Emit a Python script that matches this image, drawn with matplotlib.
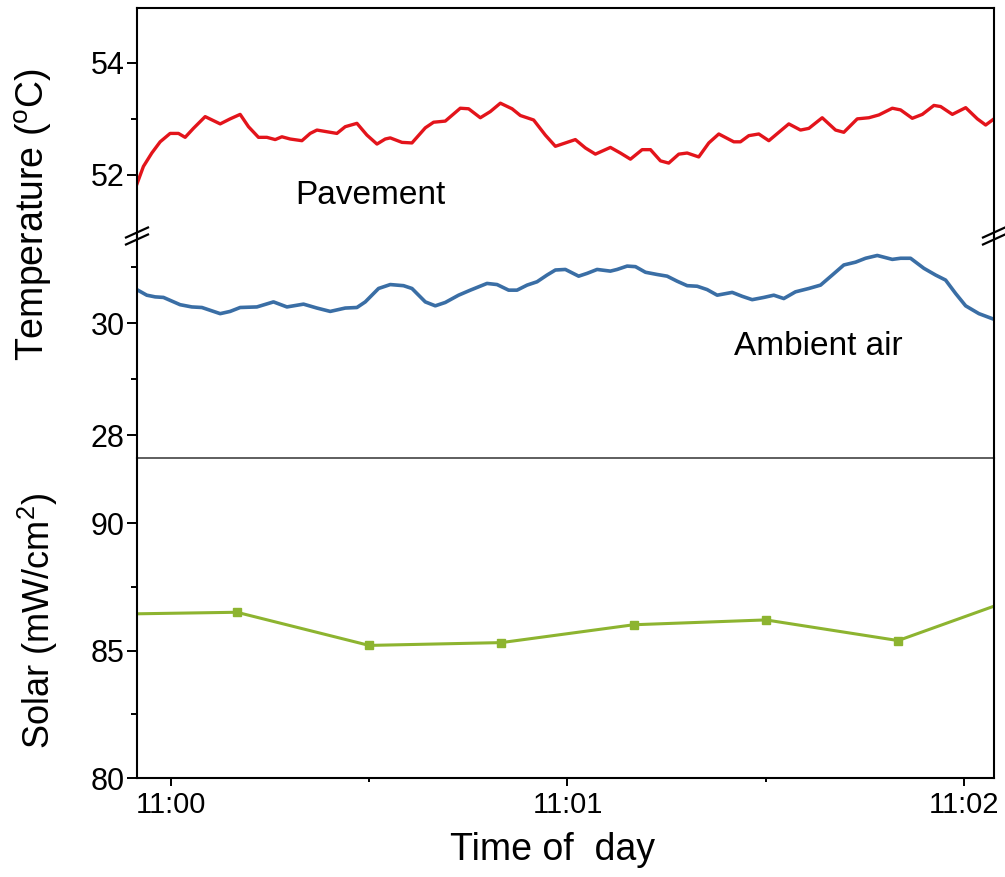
"""Pavement / ambient air temperature and solar irradiance, 11:00-11:02."""
import matplotlib
matplotlib.use("Agg")
import matplotlib.pyplot as plt
from matplotlib.lines import Line2D
from matplotlib.ticker import FixedLocator

plt.rcParams["font.family"] = ["Liberation Sans", "DejaVu Sans"]
plt.rcParams["mathtext.fontset"] = "custom"
plt.rcParams["mathtext.rm"] = "Liberation Sans"

# time in seconds after 11:00:00
pave_t = [-5.13, -4.13, -2.86, -1.60, -0.09, 1.17, 2.18, 3.43, 5.21, 7.48,
          8.99, 10.50, 11.76, 13.27, 14.54, 15.80, 16.81, 18.07, 19.84, 21.09,
          22.11, 23.62, 25.13, 26.39, 28.16, 29.67, 31.19, 32.44, 33.20, 34.97,
          36.48, 38.50, 39.75, 41.52, 43.79, 45.05, 46.82, 48.33, 49.85, 51.62,
          52.87, 54.88, 56.65, 58.17, 59.68, 61.19, 62.71, 64.22, 66.49, 68.00,
          69.52, 71.29, 72.55, 74.06, 75.31, 76.83, 78.10, 79.85, 81.37, 82.88,
          85.15, 86.16, 87.42, 88.93, 90.45, 93.47, 95.24, 96.50, 98.52, 100.54,
          101.79, 103.82, 105.58, 107.09, 109.12, 110.37, 112.14, 113.66, 115.41,
          116.43, 118.20, 120.22, 121.98, 123.24, 124.50]
pave_c = [51.83, 52.15, 52.39, 52.59, 52.74, 52.74, 52.67, 52.83, 53.04, 52.91,
          53.00, 53.08, 52.86, 52.67, 52.67, 52.63, 52.68, 52.64, 52.61, 52.74,
          52.80, 52.77, 52.74, 52.86, 52.92, 52.71, 52.55, 52.64, 52.66, 52.58,
          52.57, 52.84, 52.94, 52.96, 53.19, 53.18, 53.02, 53.13, 53.28, 53.18,
          53.06, 52.98, 52.71, 52.51, 52.57, 52.63, 52.48, 52.37, 52.49, 52.39,
          52.28, 52.45, 52.45, 52.25, 52.21, 52.37, 52.39, 52.32, 52.57, 52.73,
          52.59, 52.59, 52.70, 52.73, 52.61, 52.91, 52.80, 52.83, 53.02, 52.80,
          52.76, 53.00, 53.02, 53.07, 53.19, 53.16, 53.01, 53.08, 53.24,
          53.22, 53.08, 53.20, 53.00, 52.89, 53.00]

air_t = [-5.13, -3.62, -2.36, -1.10, 1.42, 3.19, 4.71, 7.48, 8.99, 10.50,
         13.03, 15.54, 17.57, 20.08, 22.11, 24.12, 26.39, 28.16, 29.42, 31.43,
         33.20, 35.21, 36.48, 38.50, 40.01, 41.52, 43.53, 45.31, 47.83, 49.35,
         51.10, 52.37, 53.89, 55.40, 56.91, 58.17, 59.68, 61.69, 62.97, 64.48,
         66.49, 67.51, 69.02, 70.28, 71.79, 73.56, 75.07, 76.58, 78.10, 79.61,
         81.12, 82.64, 84.91, 86.42, 87.93, 89.69, 91.20, 92.71, 94.48, 96.50,
         98.27, 100.04, 101.79, 103.56, 105.08, 106.85, 109.12, 110.37, 111.88,
         113.90, 115.67, 117.18, 118.70, 120.21, 122.22, 124.25]
air_c = [30.60, 30.50, 30.47, 30.46, 30.33, 30.29, 30.28, 30.17, 30.21, 30.28,
         30.29, 30.38, 30.29, 30.34, 30.27, 30.21, 30.27, 30.28, 30.38, 30.62,
         30.69, 30.67, 30.62, 30.38, 30.31, 30.37, 30.50, 30.59, 30.71, 30.69,
         30.59, 30.59, 30.68, 30.74, 30.86, 30.95, 30.96, 30.84, 30.89, 30.96,
         30.93, 30.96, 31.02, 31.01, 30.91, 30.87, 30.84, 30.75, 30.67, 30.66,
         30.60, 30.50, 30.55, 30.48, 30.42, 30.46, 30.50, 30.44, 30.56, 30.62,
         30.68, 30.86, 31.04, 31.09, 31.16, 31.21, 31.14, 31.16, 31.16,
         30.98, 30.86, 30.77, 30.53, 30.31, 30.17, 30.08]

solar_t = [-10, 10, 30, 50, 70, 90, 110, 130]
solar_mw = [86.42, 86.50, 85.20, 85.31, 86.01, 86.20, 85.39, 87.25]

time_ticks = [0, 60, 120]
time_labels = ["11:00", "11:01", "11:02"]

RED = "#e3141b"
BLUE = "#3a6ea5"
GREEN = "#8db430"
W, H = 1005, 877


def box(x0, y0, x1, y1):
    # pixel box (top-left origin) -> figure fraction rect
    return [x0 / W, 1 - y1 / H, (x1 - x0) / W, (y1 - y0) / H]


fig = plt.figure(figsize=(W / 100, H / 100), dpi=100)
ax_p = fig.add_axes(box(137, 8, 994, 237))
ax_a = fig.add_axes(box(137, 237, 994, 458))
ax_s = fig.add_axes(box(137, 458, 994, 778))

ax_p.plot(pave_t, pave_c, color=RED, lw=2.4)
ax_a.plot(air_t, air_c, color=BLUE, lw=2.6)
ax_s.plot(solar_t, solar_mw, color=GREEN, lw=2.2, marker="s", ms=6.3,
          mec=GREEN, mfc=GREEN)

for ax in (ax_p, ax_a, ax_s):
    ax.patch.set_visible(False)
    ax.set_xlim(-5.1, 124.5)
    for s in ax.spines.values():
        s.set_linewidth(1.5)
    ax.tick_params(axis="y", which="major", direction="out", length=7,
                   width=1.4, labelsize=22, pad=2)
    ax.tick_params(axis="y", which="minor", direction="out", length=4.5,
                   width=1.4)
    ax.tick_params(axis="x", which="both", bottom=False, labelbottom=False)

ax_p.spines["bottom"].set_visible(False)
ax_a.spines["top"].set_visible(False)
ax_a.spines["bottom"].set_linewidth(1.1)
ax_a.spines["bottom"].set_color("#333333")
ax_s.spines["top"].set_visible(False)

ax_p.set_ylim(50.89, 54.98)
ax_p.yaxis.set_major_locator(FixedLocator([52, 54]))
ax_p.yaxis.set_minor_locator(FixedLocator([53]))

ax_a.set_ylim(27.59, 31.54)
ax_a.yaxis.set_major_locator(FixedLocator([28, 30]))
ax_a.yaxis.set_minor_locator(FixedLocator([29, 31]))

ax_s.set_ylim(80, 92.55)
ax_s.yaxis.set_major_locator(FixedLocator([80, 85, 90]))
ax_s.yaxis.set_minor_locator(FixedLocator([82.5, 87.5]))
ax_s.set_xticks(time_ticks)
ax_s.set_xticklabels(time_labels)
ax_s.xaxis.set_minor_locator(FixedLocator([30, 90]))
ax_s.tick_params(axis="x", which="major", bottom=True, labelbottom=True,
                 direction="out", length=5.5, width=1.4, labelsize=21, pad=4)
ax_s.tick_params(axis="x", which="minor", bottom=True, direction="out",
                 length=3, width=1.4)

ax_p.text(30.2, 51.64, "Pavement", fontsize=24, ha="center", va="center")
ax_a.text(97.9, 29.59, "Ambient air", fontsize=24, ha="center", va="center")

fig.text(33 / W, 1 - 215 / H, r"Temperature ($^{\rm o}$C)", fontsize=27,
         rotation=90, ha="center", va="center")
fig.text(38 / W, 1 - 621 / H, r"Solar (mW/cm$^{2}$)", fontsize=26,
         rotation=90, ha="center", va="center")
fig.text(553 / W, 1 - 850 / H, "Time of  day", fontsize=27,
         ha="center", va="center")

# axis-break marks on both temperature spines
yb = 1 - 236 / H
dx, dy, gap = 11 / W, 5 / H, 3.5 / H
for xb in (137 / W, 994 / W):
    for off in (-gap, gap):
        fig.add_artist(Line2D([xb - dx, xb + dx],
                              [yb - dy + off, yb + dy + off],
                              color="black", lw=1.6,
                              transform=fig.transFigure))

fig.savefig("out.png", dpi=100)
